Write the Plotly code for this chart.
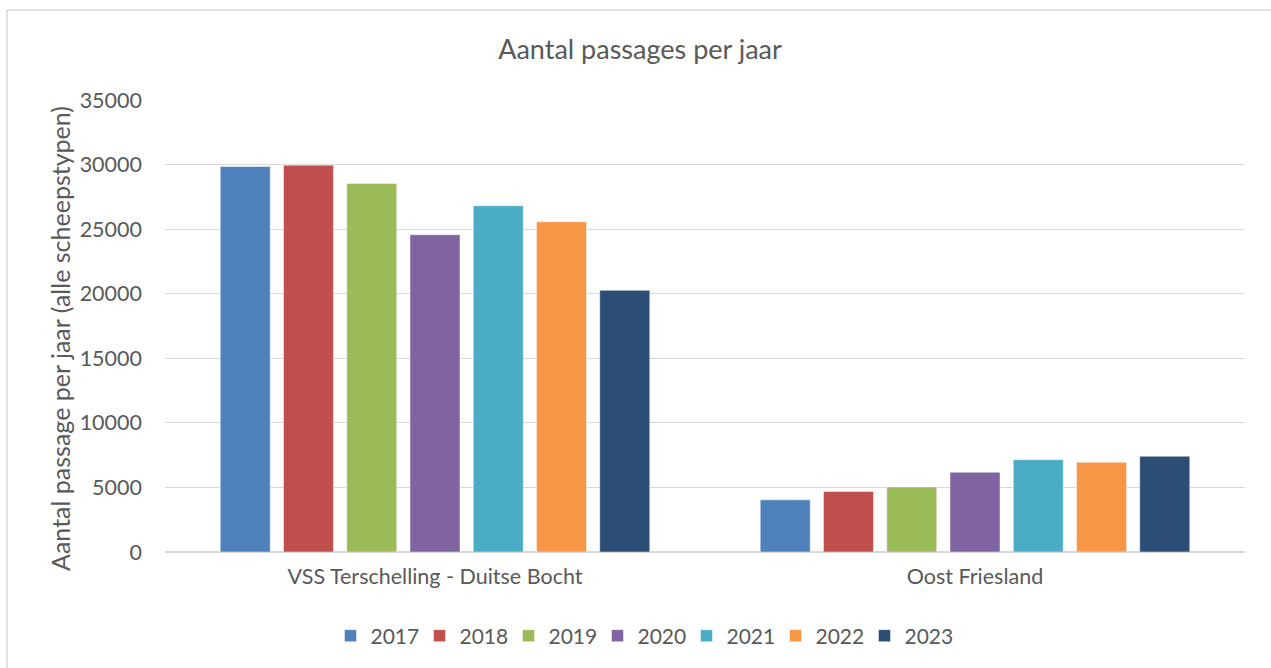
import plotly.graph_objects as go

# Passages per year for the two routes, all ship types
routes = ["VSS Terschelling - Duitse Bocht", "Oost Friesland"]
years = ["2017", "2018", "2019", "2020", "2021", "2022", "2023"]
passages = {
    "2017": [29850, 4040],
    "2018": [29950, 4690],
    "2019": [28530, 5030],
    "2020": [24570, 6170],
    "2021": [26810, 7150],
    "2022": [25570, 6950],
    "2023": [20260, 7410],
}
colors = ["#4F81BD", "#C0504D", "#9BBB59", "#8064A2", "#4BACC6", "#F79646", "#2C4D75"]
y_ticks = [0, 5000, 10000, 15000, 20000, 25000, 30000, 35000]

FONT = "Lato"
GREY = "#595959"

fig = go.Figure()
for year, col in zip(years, colors):
    fig.add_trace(go.Bar(
        name=year,
        x=routes,
        y=passages[year],
        marker=dict(color=col, line=dict(color="rgba(255,255,255,0.45)", width=1)),
    ))

L, R, T, B = 165, 26, 100, 116
W, H = 1271, 668
pw, ph = W - L - R, H - T - B

fig.update_layout(
    width=W, height=H,
    margin=dict(l=L, r=R, t=T, b=B),
    paper_bgcolor="white", plot_bgcolor="white",
    barmode="group", bargap=0.18, bargroupgap=0.21,
    font=dict(family=FONT, color=GREY, size=21),
    title=dict(
        text="Aantal passages per jaar",
        x=(640 - L) / pw, xref="paper", xanchor="center",
        y=1 - 50 / H, yref="container", yanchor="middle",
        font=dict(family=FONT, size=27, color=GREY),
    ),
    showlegend=True,
    legend=dict(
        orientation="h", x=(642 - L) / pw, xanchor="center",
        y=(T + ph - 636) / ph, yanchor="middle",
        font=dict(family=FONT, size=21, color=GREY),
        itemwidth=30, traceorder="normal",
        entrywidth=44,
    ),
    xaxis=dict(
        showgrid=False, showline=False, ticks="",
        ticklabelstandoff=9,
        tickfont=dict(family=FONT, size=21.5, color=GREY),
    ),
    yaxis=dict(
        range=[0, 35000], tickvals=y_ticks, ticktext=[str(v) for v in y_ticks],
        showgrid=True, gridcolor="#d9d9d9", gridwidth=1,
        zeroline=True, zerolinecolor="#d9d9d9", zerolinewidth=1.5,
        showline=False, ticks="", ticklabelstandoff=22,
        tickfont=dict(family=FONT, size=21.5, color=GREY),
    ),
    annotations=[dict(
        text="Aantal passage per jaar (alle scheepstypen)",
        xref="paper", yref="paper",
        x=(60 - L) / pw, y=(T + ph - 339) / ph,
        xanchor="center", yanchor="middle", textangle=-90, showarrow=False,
        font=dict(family=FONT, size=25, color=GREY),
    )],
    shapes=[dict(
        type="rect", xref="paper", yref="paper",
        x0=(7 - L) / pw, x1=(W + 10 - L) / pw,
        y0=(T + ph - (H + 10)) / ph, y1=(T + ph - 10) / ph,
        line=dict(color="#d9d9d9", width=1.5), fillcolor="rgba(0,0,0,0)", layer="below",
    )],
)

fig.write_html("out.html")
